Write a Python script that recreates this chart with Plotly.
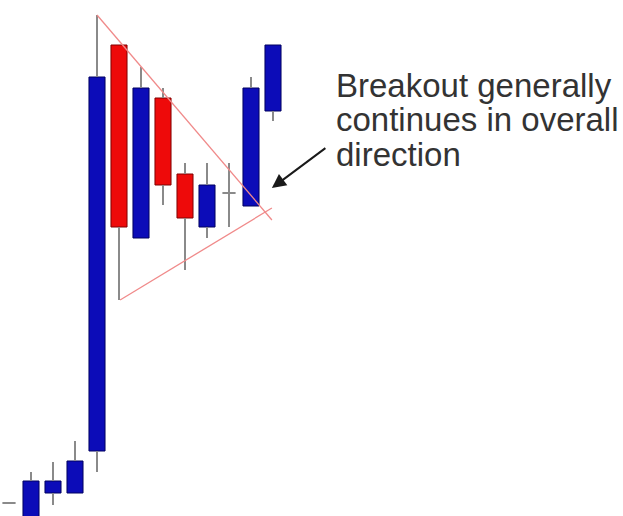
import plotly.graph_objects as go

# candle data (index, open, close, high, low) - price units
idx = [0, 1, 2, 3, 4, 5, 6, 7, 8, 9, 10, 11, 12]
opens = [37, 10, 47, 47, 89, 495, 302, 442, 366, 313, 347, 334, 429]
closes = [37, 59, 59, 79, 463, 313, 452, 355, 322, 355, 347, 452, 495]
highs = [37, 68, 78, 99, 525, 495, 473, 452, 377, 377, 377, 463, 495]
lows = [37, 5, 35, 47, 68, 240, 302, 335, 270, 302, 313, 334, 419]

# pennant outline
pennant_top_x = [4.0, 11.95]
pennant_top_y = [525, 320]
pennant_bot_x = [5.05, 11.95]
pennant_bot_y = [240, 332]

# arrow (tail -> head)
arrow_tail = (14.45, 393)
arrow_head = (11.95, 352)

text_lines = ["Breakout generally", "continues in overall", "direction"]

BLUE = "#0c0cb8"
RED = "#ee0a0a"
WICK = "#8a8a8a"

fig = go.Figure()

# wicks, split above/below body so they don't cross the bodies
wx, wy = [], []
for i, o, c, h, l in zip(idx, opens, closes, highs, lows):
    top, bot = max(o, c), min(o, c)
    if h > top:
        wx += [i, i, None]
        wy += [top, h, None]
    if l < bot:
        wx += [i, i, None]
        wy += [l, bot, None]
fig.add_trace(go.Scatter(x=wx, y=wy, mode="lines",
                         line=dict(color=WICK, width=2), hoverinfo="skip"))

# doji ticks
dx, dy = [], []
for i, o, c in zip(idx, opens, closes):
    if o == c:
        dx += [i - 0.3, i + 0.3, None]
        dy += [o, o, None]
fig.add_trace(go.Scatter(x=dx, y=dy, mode="lines",
                         line=dict(color=WICK, width=2), hoverinfo="skip"))

# bodies
bx, bh, bb, bc, bl = [], [], [], [], []
for i, o, c in zip(idx, opens, closes):
    if o == c:
        continue
    bx.append(i)
    bh.append(abs(c - o))
    bb.append(min(o, c))
    bc.append(BLUE if c > o else RED)
    bl.append("#000060" if c > o else "#800000")
fig.add_trace(go.Bar(x=bx, y=bh, base=bb, width=0.73,
                     marker=dict(color=bc, line=dict(color=bl, width=1))))

# pennant
for px_, py_ in [(pennant_top_x, pennant_top_y), (pennant_bot_x, pennant_bot_y)]:
    fig.add_trace(go.Scatter(x=px_, y=py_, mode="lines",
                             line=dict(color="#f08a8a", width=1.3),
                             hoverinfo="skip"))

fig.add_annotation(x=arrow_head[0], y=arrow_head[1], ax=arrow_tail[0],
                   ay=arrow_tail[1], axref="x", ayref="y", text="",
                   showarrow=True, arrowhead=2, arrowsize=1.4,
                   arrowwidth=2, arrowcolor="#1a1a1a")

for k, line in enumerate(text_lines):
    fig.add_annotation(x=334 / 623, y=1 - (86 + 34 * k) / 516,
                       xref="paper", yref="paper", text=line,
                       showarrow=False, xanchor="left", yanchor="middle",
                       font=dict(family="Liberation Sans, Arial", size=33,
                                 color="#333333"))

fig.update_layout(
    width=623, height=516,
    margin=dict(l=0, r=0, t=0, b=0),
    plot_bgcolor="white", paper_bgcolor="white",
    showlegend=False,
    xaxis=dict(range=[-9 / 22, 614 / 22], visible=False, fixedrange=True),
    yaxis=dict(range=[24, 540], visible=False, fixedrange=True),
)

fig.write_html("out.html", config={"displayModeBar": False},
               post_script="document.body.style.margin='0';")
